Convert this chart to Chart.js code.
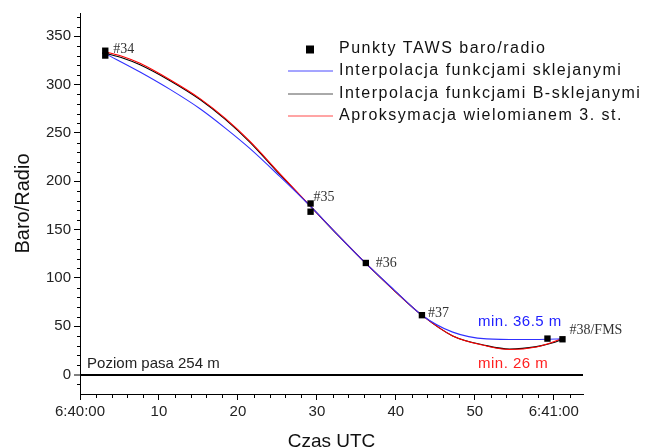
<!DOCTYPE html>
<html>
<head>
<meta charset="utf-8">
<script src="https://cdn.jsdelivr.net/npm/chart.js@4.4.0/dist/chart.umd.min.js"></script>
<style>
  html, body { margin: 0; padding: 0; background: #fff; }
</style>
</head>
<body>
<canvas id="chart" width="647" height="448"></canvas>
<script>
// x = seconds after 6:40:00 UTC, y = baro/radio height [m]

// TAWS points
const tawsX = [3.2, 3.2, 29.2, 29.2, 36.2, 43.3, 59.2, 61.1];
const tawsY = [335, 330, 177, 168.5, 115.5, 61.5, 37.3, 36.6];

// spline interpolation (blue)
const splineX = [3.2, 7.6, 11.4, 15.2, 18.4, 21.5, 25.3, 29.2, 32.7, 36.2, 39.8, 43.3, 47.2, 51.5, 55.7, 59.1, 61.1];
const splineY = [332, 313, 295, 275, 255, 234, 205, 174, 144, 115, 87.5, 61.5, 44, 37, 36.3, 36.6, 37];

// B-spline interpolation (black)
const bsplineX = [3.2, 5.4, 7.6, 11.4, 15.2, 18.4, 21.5, 25.3, 29.2, 32.7, 36.2, 39.8, 43.3, 47.2, 51.5, 54.4, 57.8, 59.9, 61.1];
const bsplineY = [332.5, 327.5, 320.5, 304, 284.5, 264, 240.5, 207, 174, 144, 115, 87, 61.5, 40, 30, 26.5, 29, 33, 36.6];

// 3rd degree polynomial (red)
const polyX = [3.2, 5.4, 7.6, 11.4, 15.2, 18.4, 21.5, 25.3, 29.2, 32.7, 36.2, 39.8, 43.3, 47.2, 51.5, 54.4, 57.8, 59.9, 61.4];
const polyY = [334, 329, 322, 305, 285.5, 265, 241.5, 208, 174, 144, 115, 87, 61.5, 40, 29.6, 26, 28.6, 33.7, 38.9];

// axes
const xTickValues = [0, 10, 20, 30, 40, 50, 60];
const xTickLabels = ['6:40:00', '10', '20', '30', '40', '50', '6:41:00'];
const yTickValues = [0, 50, 100, 150, 200, 250, 300, 350];

const toPts = (xs, ys) => xs.map((v, i) => ({ x: v, y: ys[i] }));

const notes = [
    { text: '#34', x: 3.2, y: 332, dx: 8, dy: -4, serif: true, color: '#333' },
    { text: '#35', x: 29.2, y: 177, dx: 3, dy: -6, serif: true, color: '#333' },
    { text: '#36', x: 36.2, y: 115.5, dx: 10, dy: 0, serif: true, color: '#333' },
    { text: '#37', x: 43.3, y: 61.5, dx: 6, dy: -2, serif: true, color: '#333' },
    { text: '#38/FMS', x: 61.1, y: 36.6, dx: 7, dy: -9, serif: true, color: '#333' },
    { text: 'min. 36.5 m', x: 50.4, y: 55, dx: 0, dy: 0, color: '#2020ff', spacing: '0.5px' },
    { text: 'min. 26 m', x: 50.4, y: 11, dx: 0, dy: 0, color: '#ff2020', spacing: '0.5px' },
    { text: 'Poziom pasa 254 m', x: 0.9, y: 11.5, dx: 0, dy: 0, color: '#222' }
];

const legendColors = ['#000', '#4a4aff', '#555', '#ff4a4a'];

const extras = {
    id: 'extras',
    afterDatasetsDraw(chart) {
        const { ctx, chartArea, scales: { x, y } } = chart;
        ctx.save();

        // minor ticks
        ctx.strokeStyle = '#000';
        ctx.lineWidth = 1;
        ctx.beginPath();
        for (let v = -10; v <= 370; v += 10) {
            if (v % 50 === 0) continue;
            const py = Math.round(y.getPixelForValue(v)) + 0.5;
            ctx.moveTo(chartArea.left - 3, py);
            ctx.lineTo(chartArea.left, py);
        }
        for (let v = 2; v <= 62; v += 2) {
            if (v % 10 === 0) continue;
            const px = Math.round(x.getPixelForValue(v)) + 0.5;
            ctx.moveTo(px, chartArea.bottom);
            ctx.lineTo(px, chartArea.bottom + 4);
        }
        ctx.stroke();

        // annotations
        ctx.textBaseline = 'middle';
        ctx.textAlign = 'left';
        notes.forEach(n => {
            ctx.font = n.serif ? '14px "Liberation Serif", serif' : '15px "Liberation Sans", Arial, sans-serif';
            ctx.letterSpacing = n.spacing || '0px';
            ctx.fillStyle = n.color;
            ctx.fillText(n.text, x.getPixelForValue(n.x) + n.dx, y.getPixelForValue(n.y) + n.dy);
        });

        // legend inside the plot
        const ds = chart.data.datasets;
        const lx = 288, tx = 339, rowY = [49, 71, 94, 116];
        ctx.font = '16px "Liberation Sans", Arial, sans-serif';
        ctx.letterSpacing = '1.5px';
        ds.forEach((d, i) => {
            const yy = rowY[i];
            if (i === 0) {
                ctx.fillStyle = '#000';
                ctx.fillRect(306, yy - 3.5, 8, 8);
            } else {
                ctx.strokeStyle = legendColors[i];
                ctx.lineWidth = 1;
                ctx.beginPath();
                ctx.moveTo(lx, yy);
                ctx.lineTo(lx + 45, yy);
                ctx.stroke();
            }
            ctx.fillStyle = '#111';
            ctx.fillText(d.label, tx, yy);
        });
        ctx.restore();
    }
};

const curve = (label, xs, ys, color, order) => ({
    label: label,
    data: toPts(xs, ys),
    borderColor: color,
    borderWidth: 1.1,
    pointRadius: 0,
    showLine: true,
    cubicInterpolationMode: 'monotone',
    order: order
});

new Chart(document.getElementById('chart').getContext('2d'), {
    type: 'scatter',
    data: {
        datasets: [
            {
                label: 'Punkty TAWS baro/radio',
                data: toPts(tawsX, tawsY),
                pointStyle: 'rect',
                pointRadius: 4.5,
                backgroundColor: '#000',
                borderColor: '#000',
                borderWidth: 0,
                showLine: false,
                order: 0
            },
            curve('Interpolacja funkcjami sklejanymi', splineX, splineY, '#3030ff', 1),
            curve('Interpolacja funkcjami B-sklejanymi', bsplineX, bsplineY, '#000', 3),
            curve('Aproksymacja wielomianem 3. st.', polyX, polyY, '#ff0000', 2)
        ]
    },
    options: {
        responsive: false,
        animation: false,
        layout: { padding: { top: 13, right: 64, left: 0, bottom: 0 } },
        plugins: { legend: { display: false }, tooltip: { enabled: false } },
        scales: {
            x: {
                type: 'linear',
                min: 0,
                max: 63.7,
                afterFit: s => { s.height = 54; },
                afterBuildTicks: s => { s.ticks = xTickValues.map(v => ({ value: v })); },
                ticks: {
                    callback: (v, i) => xTickLabels[i],
                    color: '#222',
                    font: { family: '"Liberation Sans", Arial', size: 15 },
                    padding: 3,
                    maxRotation: 0
                },
                grid: { drawOnChartArea: false, tickLength: 6, tickColor: '#000', tickWidth: 1 },
                border: { display: true, color: '#000', width: 1 },
                title: {
                    display: true,
                    text: 'Czas UTC',
                    color: '#111',
                    font: { family: '"Liberation Sans", Arial', size: 19, lineHeight: 1 },
                    padding: { top: 0, bottom: -3 }
                }
            },
            y: {
                type: 'linear',
                min: -20,
                max: 374,
                afterFit: s => { s.width = 80; },
                afterBuildTicks: s => { s.ticks = yTickValues.map(v => ({ value: v })); },
                ticks: {
                    color: '#222',
                    font: { family: '"Liberation Sans", Arial', size: 15 },
                    padding: 3
                },
                grid: {
                    drawOnChartArea: true,
                    color: c => (c.tick && c.tick.value === 0) ? '#000' : 'rgba(0,0,0,0)',
                    lineWidth: c => (c.tick && c.tick.value === 0) ? 2 : 1,
                    tickLength: 6,
                    tickColor: '#000',
                    tickWidth: 1
                },
                border: { display: true, color: '#000', width: 1 },
                title: {
                    display: true,
                    text: 'Baro/Radio',
                    color: '#111',
                    font: { family: '"Liberation Sans", Arial', size: 20, lineHeight: 1 },
                    padding: { top: 13, bottom: 0 }
                }
            }
        }
    },
    plugins: [extras]
});
</script>
</body>
</html>
